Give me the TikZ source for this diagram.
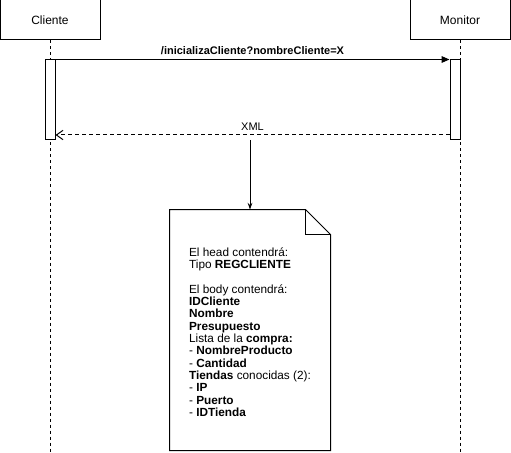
\documentclass[tikz,border=0pt]{standalone}
\usepackage{fontspec}
\setmainfont{Liberation Sans}
\usetikzlibrary{arrows.meta,positioning}
\tikzset{actor box/.style={draw, fill=white, minimum width=75pt, minimum height=30pt, font=\fontsize{9}{11}\selectfont}}
\tikzset{activation/.style={draw, fill=white, minimum width=7.5pt, minimum height=60pt, inner sep=0pt}}
\tikzset{lifeline/.style={dash pattern=on 2.25pt off 2.25pt}}
\tikzset{note box/.style={align=left, minimum width=120pt, minimum height=180pt, inner sep=0pt, font=\fontsize{8.85}{9.25}\selectfont}}
\newcommand{\msgfont}{\fontsize{8.25}{10}\selectfont}

\begin{document}
\begin{tikzpicture}[x=0.75pt,y=-0.75pt,line width=0.75pt,>={Stealth[length=5pt,width=3.5pt]}]
	\useasboundingbox (0,0) rectangle (511,453);
	\node[actor box] at (50,20)       (cliente)           {Cliente};
	\node[actor box] at (460,20)      (monitor)           {Monitor};
	\coordinate (cliente end) at (50,453);
	\coordinate (monitor end) at (460,453);
	\draw[lifeline] (cliente) -- (cliente end);
	\draw[lifeline] (monitor) -- (monitor end);
	\node[activation] at (50,100)     (act_c)             {};
	\node[activation] at (455,100)    (act_m)             {};
	\path (act_c.north east) edge[-{Triangle[length=6pt,width=5pt]}] node[above, font=\msgfont\bfseries] {/inicializaCliente?nombreCliente=X} (act_m.north west);
	\coordinate (xml start) at (act_m.west |- 0,135);
	\coordinate (xml end) at (act_c.east |- 0,135);
	\path (xml start) edge[dashed, dash pattern=on 3pt off 2.25pt, -{Straight Barb[length=5pt,width=7pt]}] node[above, font=\msgfont] {XML} (xml end);
	\node[note box] at (250,332)      (note)              {El head contendrá:\\Tipo \textbf{REGCLIENTE}\\ ~ \\El body contendrá:\\\textbf{IDCliente}\\\textbf{Nombre}\\\textbf{Presupuesto}\\Lista de la \textbf{compra:}\\- \textbf{NombreProducto}\\- \textbf{Cantidad}\\\textbf{Tiendas} conocidas (2):\\- \textbf{IP}\\- \textbf{Puerto}\\- \textbf{IDTienda}};
	% dog-eared outline of the note
	\draw ([yshift=1.5pt]note.north west) -- ([xshift=-18.75pt,yshift=1.5pt]note.north east) -- ([yshift=-17.25pt]note.north east) -- ([yshift=1.5pt]note.south east) -- ([yshift=1.5pt]note.south west) -- cycle;
	\draw ([xshift=-18.75pt,yshift=1.5pt]note.north east) -- ([xshift=-18.75pt,yshift=-17.25pt]note.north east) -- ([yshift=-17.25pt]note.north east);
	\coordinate (xml drop) at (250,140);
	\path (xml drop) edge[->] ([yshift=1.5pt]note.north);
\end{tikzpicture}
\end{document}
